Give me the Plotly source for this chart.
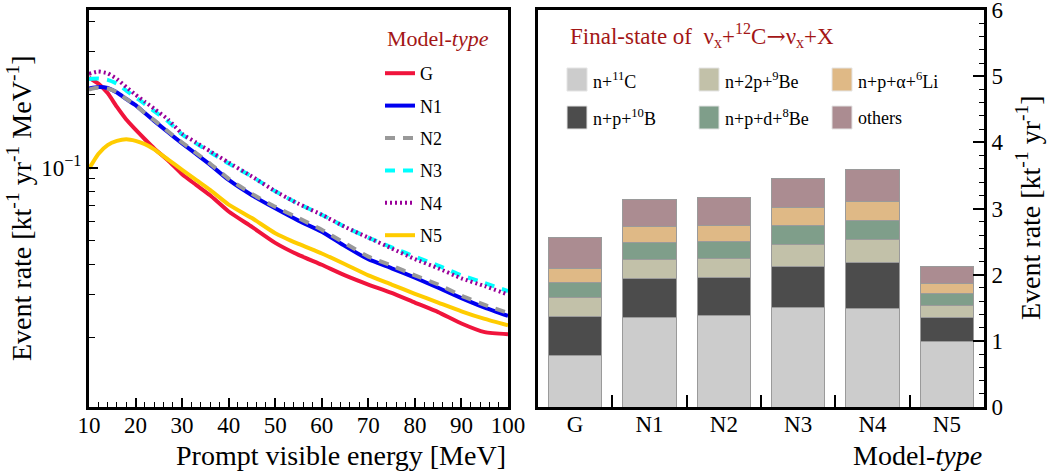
import plotly.graph_objects as go

# ---------------- data: left panel (spectra) ----------------
energy = [10, 12, 14, 16, 18, 20, 22, 24, 27, 30, 33, 36, 40, 45, 50,
          55, 60, 65, 70, 75, 80, 85, 90, 95, 100]
rate_G = [0.235, 0.222, 0.203, 0.178, 0.158, 0.1435, 0.131, 0.120, 0.107, 0.094,
          0.085, 0.077, 0.066, 0.057, 0.049, 0.0437, 0.0398, 0.036, 0.033, 0.0305,
          0.0278, 0.0254, 0.0228, 0.021, 0.0206]
rate_N1 = [0.212, 0.215, 0.213, 0.204, 0.192, 0.181, 0.168, 0.156, 0.140, 0.126,
           0.114, 0.103, 0.089, 0.077, 0.068, 0.0605, 0.0545, 0.0475, 0.042, 0.0385,
           0.0352, 0.032, 0.029, 0.0265, 0.0245]
rate_N2 = [0.210, 0.214, 0.212, 0.205, 0.192, 0.181, 0.168, 0.157, 0.141, 0.127,
           0.115, 0.104, 0.090, 0.078, 0.069, 0.062, 0.0555, 0.0488, 0.043, 0.0395,
           0.036, 0.033, 0.0297, 0.0272, 0.0252]
rate_N3 = [0.232, 0.233, 0.230, 0.222, 0.208, 0.195, 0.183, 0.171, 0.155, 0.137,
           0.126, 0.116, 0.104, 0.092, 0.080, 0.071, 0.064, 0.057, 0.0515, 0.047,
           0.043, 0.0395, 0.036, 0.0335, 0.031]
rate_N4 = [0.244, 0.249, 0.245, 0.232, 0.215, 0.200, 0.187, 0.175, 0.158, 0.138,
           0.127, 0.117, 0.105, 0.092, 0.080, 0.071, 0.064, 0.057, 0.0515, 0.0465,
           0.042, 0.0385, 0.035, 0.0325, 0.030]
rate_N5 = [0.099, 0.114, 0.124, 0.129, 0.131, 0.129, 0.125, 0.119, 0.108, 0.098,
           0.089, 0.081, 0.0705, 0.062, 0.0537, 0.0485, 0.0443, 0.040, 0.036, 0.033,
           0.0302, 0.0278, 0.0256, 0.0238, 0.0224]
y_tick_vals = [0.1]
y_tick_text = ["10<sup>\u22121</sup>"]
y_minor_vals = [0.02, 0.03, 0.04, 0.05, 0.06, 0.07, 0.08, 0.09, 0.2, 0.3, 0.4]
x_tick_vals = [10, 20, 30, 40, 50, 60, 70, 80, 90, 100]

# ---------------- data: right panel (stacked bars) ----------------
models = ["G", "N1", "N2", "N3", "N4", "N5"]
n_11C = [0.78, 1.36, 1.38, 1.505, 1.49, 0.985]
np_10B = [0.59, 0.58, 0.575, 0.625, 0.69, 0.375]
n2p_9Be = [0.29, 0.29, 0.295, 0.33, 0.355, 0.175]
npd_8Be = [0.22, 0.25, 0.25, 0.28, 0.285, 0.175]
npa_6Li = [0.21, 0.25, 0.25, 0.27, 0.28, 0.16]
others = [0.48, 0.40, 0.41, 0.45, 0.495, 0.26]
channel_labels = ["n+<sup>11</sup>C", "n+p+<sup>10</sup>B", "n+2p+<sup>9</sup>Be",
                  "n+p+d+<sup>8</sup>Be", "n+p+\u03b1+<sup>6</sup>Li", "others"]
channel_colors = ["#cccccc", "#4c4c4c", "#c2c1a9", "#7f9e8a", "#dfb986", "#ab8c91"]
rate_ticks = [0, 1, 2, 3, 4, 5, 6]

W, H = 1050, 473
FONT = "Liberation Serif"
DARKRED = "#a31616"


def fx(px):
    return px / W


def fy(py):
    return 1 - py / H


fig = go.Figure()

series = [
    ("G", rate_G, "rgb(240,20,60)", "solid"),
    ("N1", rate_N1, "#0000f0", "solid"),
    ("N2", rate_N2, "#999999", "10px,8px"),
    ("N3", rate_N3, "#00ffff", "10px,8px"),
    ("N4", rate_N4, "#990099", "2px,3px"),
    ("N5", rate_N5, "#ffcc00", "solid"),
]
for name, vals, col, dash in series:
    fig.add_trace(go.Scatter(
        x=energy, y=vals, mode="lines", name=name, legendgroup=name,
        line=dict(color=col, width=4, dash=dash, shape="spline", smoothing=0.5),
        xaxis="x", yaxis="y"))

xpos = list(range(len(models)))
for vals, lab, col in zip([n_11C, np_10B, n2p_9Be, npd_8Be, npa_6Li, others],
                          channel_labels, channel_colors):
    fig.add_trace(go.Bar(
        x=xpos, y=vals, name=lab, marker=dict(color=col, line=dict(color="#9a9a9a", width=1)),
        width=0.72, showlegend=False, xaxis="x2", yaxis="y2"))

axis_common = dict(showline=True, linewidth=3, linecolor="black", mirror=True,
                   showgrid=False, zeroline=False, ticks="inside", tickcolor="black",
                   tickfont=dict(size=23, family=FONT, color="black"))

shapes = []
annotations = []
# manual legend for the stacked channels (3 columns x 2 rows)
col_left = [567, 699, 832]
row_top = [68, 106]
for i, (lab, col) in enumerate(zip(channel_labels, channel_colors)):
    c, r = i // 2, i % 2
    x0 = col_left[c]
    y0 = row_top[r]
    shapes.append(dict(type="rect", xref="paper", yref="paper",
                       x0=fx(x0), x1=fx(x0 + 20), y0=fy(y0 + 23), y1=fy(y0),
                       fillcolor=col, line=dict(color="#e4e4e4", width=1)))
    annotations.append(dict(text=lab, xref="paper", yref="paper", x=fx(x0 + 24),
                            y=fy(y0 + 12), xanchor="left", yanchor="middle",
                            showarrow=False, font=dict(size=18, family=FONT, color="black")))

annotations += [
    dict(text=("Final-state of&nbsp; \u03bd<sub>x</sub>+<sup>12</sup>C"
               "<span style=\"font-family:'DejaVu Serif'\">\u2192</span>"
               "\u03bd<sub>x</sub>+X"),
         xref="paper", yref="paper", x=fx(568), y=fy(36), xanchor="left", yanchor="middle",
         showarrow=False, font=dict(size=23, family=FONT, color=DARKRED)),
    dict(text="Model-<i>type</i>", xref="paper", yref="paper", x=fx(385), y=fy(38),
         xanchor="left", yanchor="middle", showarrow=False,
         font=dict(size=22, family=FONT, color=DARKRED)),
    dict(text="Prompt visible energy [MeV]", xref="paper", yref="paper", x=fx(508), y=fy(455),
         xanchor="right", yanchor="middle", showarrow=False,
         font=dict(size=28, family=FONT, color="black")),
    dict(text="Model-<i>type</i>", xref="paper", yref="paper", x=fx(984), y=fy(455),
         xanchor="right", yanchor="middle", showarrow=False,
         font=dict(size=28, family=FONT, color="black")),
    dict(text="Event rate [kt<sup>-1</sup> yr<sup>-1</sup> MeV<sup>-1</sup>]", xref="paper",
         yref="paper", x=fx(19), y=fy(208), textangle=-90, xanchor="center", yanchor="middle",
         showarrow=False, font=dict(size=28, family=FONT, color="black")),
    dict(text="Event rate [kt<sup>-1</sup> yr<sup>-1</sup>]", xref="paper",
         yref="paper", x=fx(1028), y=fy(208), textangle=-90, xanchor="center", yanchor="middle",
         showarrow=False, font=dict(size=28, family=FONT, color="black")),
]

fig.update_layout(
    width=W, height=H,
    margin=dict(l=0, r=0, t=0, b=0),
    paper_bgcolor="white", plot_bgcolor="white",
    font=dict(family=FONT, color="black"),
    barmode="stack",
    bargap=0.28,
    xaxis=dict(domain=[fx(89), fx(508)], anchor="y", range=[10, 100],
               tickmode="array", tickvals=x_tick_vals, ticklen=9, tickwidth=1.5,
               ticklabelstandoff=-5,
               minor=dict(dtick=2, tick0=10, ticks="inside", ticklen=5, tickwidth=1.2,
                          tickcolor="black"),
               automargin=False, **axis_common),
    yaxis=dict(domain=[fy(407), fy(10)], anchor="x", type="log", range=[-1.9863, -0.35],
               tickmode="array", tickvals=y_tick_vals, ticktext=y_tick_text,
               ticklen=9, tickwidth=1.5,
               minor=dict(tickmode="array", tickvals=y_minor_vals, ticks="inside",
                          ticklen=6, tickwidth=1.2, tickcolor="black"),
               automargin=False, **axis_common),
    xaxis2=dict(domain=[fx(538), fx(984)], anchor="y2", range=[-0.5, 5.5],
                tickmode="array", tickvals=xpos, ticktext=models, ticklen=0, tickwidth=1,
                ticklabelstandoff=-6,
                minor=dict(tickmode="array", tickvals=[0.5, 1.5, 2.5, 3.5, 4.5],
                           ticks="inside", ticklen=12, tickwidth=1.5, tickcolor="black"),
                layer="below traces", automargin=False, **axis_common),
    yaxis2=dict(domain=[fy(407), fy(10)], anchor="x2", side="right", range=[0, 6.002],
                tickmode="array", tickvals=rate_ticks, ticklen=11, tickwidth=1.5,
                minor=dict(dtick=0.2, ticks="inside", ticklen=5, tickwidth=1.2,
                           tickcolor="black"),
                ticklabeloverflow="allow",
                automargin=False, **axis_common),
    legend=dict(x=fx(380), y=fy(55), xanchor="left", yanchor="top",
                bgcolor="rgba(0,0,0,0)", borderwidth=0,
                font=dict(size=18, family=FONT, color="black"),
                tracegroupgap=6, itemwidth=30),
    shapes=shapes,
    annotations=annotations,
)

fig.write_html("out.html", config={"displayModeBar": False},
               post_script="document.body.style.margin='0px';")
